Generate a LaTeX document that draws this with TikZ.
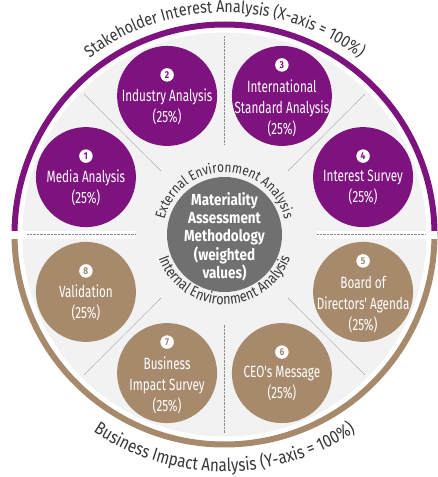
\documentclass[tikz,border=0pt]{standalone}
\usepackage{fontspec}
\setmainfont[FakeStretch=0.84]{Fira Sans}
\newfontfamily\narrow[FakeStretch=0.72]{Fira Sans}
\usetikzlibrary{positioning, calc, decorations.text}
\definecolor{purp}{RGB}{126,18,126}
\definecolor{brn}{RGB}{167,138,108}
\definecolor{disk}{RGB}{241,242,241}
\definecolor{hub}{RGB}{112,112,112}
\definecolor{ink}{RGB}{55,55,55}
\definecolor{dots}{RGB}{140,140,140}
\newcommand\toparcfont{\fontsize{17}{20}\selectfont}
\newcommand\botarcfont{\fontsize{18}{20}\selectfont}
\newcommand\extfont{\fontsize{14.2}{18}\selectfont}
\newcommand\intfont{\fontsize{15}{18}\selectfont}
\tikzset{
  topc/.style={circle, fill=purp, minimum size=100pt, inner sep=0pt},
  botc/.style={circle, fill=brn, minimum size=100pt, inner sep=0pt},
  words/.style={align=center, text=white, inner sep=0pt, font=\narrow\fontsize{16.3}{21}\selectfont},
  badge/.style={circle, fill=white, minimum size=13.5pt, inner sep=0pt, font=\bfseries\fontsize{10}{10}\selectfont},
  divider/.style={dots, line width=.6pt, dash pattern=on .7pt off .7pt},
  arclabel/.style={decorate, decoration={text along path, text align=center, text color=ink, text={#1}}}
}

\begin{document}
\begin{tikzpicture}[x=1pt, y=1pt]
\useasboundingbox [fill=white] (-224.5,-242.5) rectangle (212.5,234.5);
\fill [disk] (0,0) circle [radius=202];
\draw [purp, line width=6pt] (0:210) arc [start angle=0, end angle=180, radius=210];
\draw [brn, line width=6pt] (180:210) arc [start angle=180, end angle=360, radius=210];
\fill [white] (-224.5,-4) rectangle (-89.5,4);
\fill [white] (92.5,-4) rectangle (212.5,4);
\draw [divider] (-197.5,0) -- (-89.5,0);
\draw [divider] (92.5,0) -- (200.5,0);
\foreach \a in {45,90,135,225,270,315}
  \draw [divider] (\a:90) -- (\a:199);

\node [topc] (media) at (157.5:150) {};
\node [topc] (industry) at (112.5:150) {};
\node [topc] (standard) at (67.5:150) {};
\node [topc] (survey) at (22.5:150) {};
\node [botc] (board) at (-22.5:150) {};
\node [botc] (ceo) at (-67.5:150) {};
\node [botc] (impact) at (-112.5:150) {};
\node [botc] (validation) at (-157.5:150) {};
\node [circle, fill=hub, minimum size=115pt, inner sep=0pt] (hubc) at (0,0) {};

\node [words] (media-t) at ([yshift=-10.5pt]media.center) {Media Analysis\\(25\%)};
\node [badge, text=purp] (media-n) at ([yshift=21pt]media.center) {1};
\node [words] (industry-t) at ([yshift=-10.5pt]industry.center) {Industry Analysis\\(25\%)};
\node [badge, text=purp] (industry-n) at ([yshift=21pt]industry.center) {2};
\node [words] (standard-t) at ([yshift=-12.5pt]standard.center) {International\\Standard Analysis\\(25\%)};
\node [badge, text=purp] (standard-n) at ([yshift=31pt]standard.center) {3};
\node [words] (survey-t) at ([yshift=-10.5pt]survey.center) {Interest Survey\\(25\%)};
\node [badge, text=purp] (survey-n) at ([yshift=21pt]survey.center) {4};
\node [words] (board-t) at ([yshift=-12.5pt]board.center) {Board of\\Directors' Agenda\\(25\%)};
\node [badge, text=brn] (board-n) at ([yshift=31pt]board.center) {5};
\node [words] (ceo-t) at ([yshift=-10.5pt]ceo.center) {CEO's Message\\(25\%)};
\node [badge, text=brn] (ceo-n) at ([yshift=21pt]ceo.center) {6};
\node [words] (impact-t) at ([yshift=-12.5pt]impact.center) {Business\\Impact Survey\\(25\%)};
\node [badge, text=brn] (impact-n) at ([yshift=31pt]impact.center) {7};
\node [words] (validation-t) at ([yshift=-10.5pt]validation.center) {Validation\\(25\%)};
\node [badge, text=brn] (validation-n) at ([yshift=21pt]validation.center) {8};

\node [align=center, text=white, inner sep=0pt, font=\bfseries\fontsize{16}{18.3}\selectfont] (hub-t) at (0,-2) {Materiality\\Assessment\\Methodology\\(weighted\\values)};

\path [arclabel={|\extfont|External Environment Analysis}] (190:62) arc [start angle=190, end angle=-10, radius=62];
\path [arclabel={|\intfont|Internal Environment Analysis}] (170:70) arc [start angle=170, end angle=370, radius=70];
\path [arclabel={|\toparcfont|Stakeholder Interest Analysis (X-axis = 100{\%})}] (170:222) arc [start angle=170, end angle=10, radius=222];
\path [arclabel={|\botarcfont|Business Impact Analysis (Y-axis = 100{\%})}] (190:237) arc [start angle=190, end angle=350, radius=237];
\end{tikzpicture}
\end{document}
